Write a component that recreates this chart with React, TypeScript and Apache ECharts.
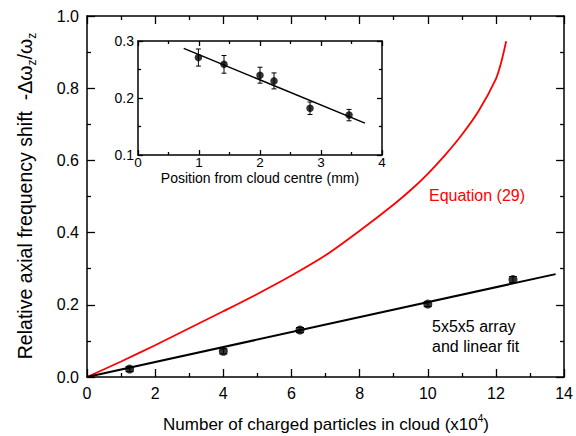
import React, { useEffect, useRef } from 'react';
import * as echarts from 'echarts';

// Main plot data
const mainX = [1.25, 4, 6.25, 10, 12.5];
const mainY = [0.022, 0.071, 0.13, 0.202, 0.27];
const mainErr = [0.007, 0.007, 0.007, 0.007, 0.008];
const fitX = [0, 13.75];
const fitY = [0, 0.285];
const eqX = [0, 1, 2, 3, 4, 5, 6, 7, 8, 9, 9.5, 10, 10.5, 11, 11.5, 12, 12.15, 12.3];
const eqY = [0, 0.043, 0.088, 0.135, 0.182, 0.23, 0.281, 0.337, 0.405, 0.478, 0.518, 0.563, 0.614, 0.671, 0.738, 0.826, 0.87, 0.93];

// Inset data
const insetX = [0.99, 1.41, 2.0, 2.23, 2.82, 3.46];
const insetY = [0.271, 0.259, 0.24, 0.23, 0.182, 0.17];
const insetErr = [0.015, 0.0155, 0.014, 0.014, 0.011, 0.01];
const insetFitX = [0.75, 3.72];
const insetFitY = [0.287, 0.156];

const FONT = '"Liberation Sans", Arial, sans-serif';

function measure(t: string, fs: number): number {
  const c = document.createElement('canvas').getContext('2d');
  if (!c) return t.length * fs * 0.55;
  c.font = `${fs}px "Liberation Sans", Arial, sans-serif`;
  return c.measureText(t).width;
}

function errRender(capHalf: number) {
  return (params: any, api: any) => {
    const x = api.value(0), y = api.value(1), e = api.value(2);
    const t = api.coord([x, y + e]);
    const b = api.coord([x, y - e]);
    const style = { stroke: '#000', lineWidth: 1 };
    return {
      type: 'group',
      children: [
        { type: 'line', shape: { x1: t[0], y1: t[1], x2: b[0], y2: b[1] }, style },
        { type: 'line', shape: { x1: t[0] - capHalf, y1: t[1], x2: t[0] + capHalf, y2: t[1] }, style },
        { type: 'line', shape: { x1: b[0] - capHalf, y1: b[1], x2: b[0] + capHalf, y2: b[1] }, style },
      ],
    };
  };
}

function axis(o: any) {
  return {
    type: 'value',
    min: o.min,
    max: o.max,
    interval: o.interval,
    gridIndex: o.grid,
    position: o.position,
    axisLine: { show: true, onZero: false, lineStyle: { color: '#000', width: 1.5 } },
    axisTick: { show: true, inside: true, length: o.tick, lineStyle: { color: '#000', width: 1.3 } },
    minorTick: { show: true, splitNumber: 2, length: o.minor, lineStyle: { color: '#000', width: 1.3 } },
    splitLine: { show: false },
    minorSplitLine: { show: false },
    axisLabel: {
      show: o.labels,
      color: '#000',
      fontSize: o.fs,
      fontFamily: FONT,
      margin: o.margin,
      lineHeight: o.lh,
      formatter: o.fmt,
    },
  };
}

function buildLabel(parts: { t: string; fs: number; dy: number }[]) {
  const widths = parts.map((p) => measure(p.t, p.fs));
  const total = widths.reduce((a, b) => a + b, 0);
  let cur = -total / 2;
  return parts.map((p, i) => {
    const el = {
      type: 'text',
      x: cur,
      y: p.dy,
      style: {
        text: p.t,
        fontSize: p.fs,
        fontFamily: FONT,
        fill: '#000',
        align: 'left',
        verticalAlign: 'middle',
      },
    };
    cur += widths[i];
    return el;
  });
}

export default function App() {
  const ref = useRef<HTMLDivElement>(null);
  useEffect(() => {
    document.body.style.margin = '0';
    if (!ref.current) return;
    const chart = echarts.init(ref.current, undefined, { renderer: 'svg' });
    const f1 = (v: number) => v.toFixed(1);

    const yLabel = buildLabel([
      { t: 'Relative axial frequency shift  -Δω', fs: 19.5, dy: 0 },
      { t: 'z', fs: 12, dy: 7 },
      { t: '/ω', fs: 19.5, dy: 0 },
      { t: 'z', fs: 12, dy: 7 },
    ]);
    const xLabel = buildLabel([
      { t: 'Number of charged particles in cloud (x10', fs: 17, dy: 0 },
      { t: '4', fs: 10, dy: -6 },
      { t: ')', fs: 17, dy: 0 },
    ]);

    chart.setOption({
      animation: false,
      backgroundColor: '#fff',
      grid: [
        { left: 87, right: 11, top: 16, bottom: 59 },
        { left: 138, right: 194, top: 41, bottom: 281 },
      ],
      xAxis: [
        axis({ min: 0, max: 14, interval: 2, grid: 0, position: 'bottom', tick: 8, minor: 4, labels: true, fs: 16, margin: 8 }),
        axis({ min: 0, max: 14, interval: 2, grid: 0, position: 'top', tick: 8, minor: 4, labels: false, fs: 16, margin: 8 }),
        axis({ min: 0, max: 4, interval: 1, grid: 1, position: 'bottom', tick: 5, minor: 3, labels: true, fs: 13.5, margin: 2, lh: 11 }),
        axis({ min: 0, max: 4, interval: 1, grid: 1, position: 'top', tick: 5, minor: 3, labels: false, fs: 14, margin: 2 }),
      ],
      yAxis: [
        axis({ min: 0, max: 1, interval: 0.2, grid: 0, position: 'left', tick: 8, minor: 4, labels: true, fs: 16, margin: 8, fmt: f1 }),
        axis({ min: 0, max: 1, interval: 0.2, grid: 0, position: 'right', tick: 8, minor: 4, labels: false, fs: 16, margin: 8 }),
        axis({ min: 0.1, max: 0.3, interval: 0.1, grid: 1, position: 'left', tick: 5, minor: 3, labels: true, fs: 14, margin: 4, fmt: f1 }),
        axis({ min: 0.1, max: 0.3, interval: 0.1, grid: 1, position: 'right', tick: 5, minor: 3, labels: false, fs: 14, margin: 4 }),
      ],
      series: [
        {
          type: 'line',
          xAxisIndex: 0,
          yAxisIndex: 0,
          data: eqX.map((x, i) => [x, eqY[i]]),
          smooth: 0.3,
          showSymbol: false,
          lineStyle: { color: '#ff0000', width: 1.8 },
        },
        {
          type: 'line',
          xAxisIndex: 0,
          yAxisIndex: 0,
          data: fitX.map((x, i) => [x, fitY[i]]),
          showSymbol: false,
          lineStyle: { color: '#000', width: 2 },
        },
        {
          type: 'custom',
          xAxisIndex: 0,
          yAxisIndex: 0,
          data: mainX.map((x, i) => [x, mainY[i], mainErr[i]]),
          renderItem: errRender(4),
        },
        {
          type: 'scatter',
          xAxisIndex: 0,
          yAxisIndex: 0,
          data: mainX.map((x, i) => [x, mainY[i]]),
          symbol: 'circle',
          symbolSize: 9,
          itemStyle: { color: '#000' },
        },
        {
          type: 'line',
          xAxisIndex: 2,
          yAxisIndex: 2,
          data: insetFitX.map((x, i) => [x, insetFitY[i]]),
          showSymbol: false,
          lineStyle: { color: '#000', width: 1.5 },
        },
        {
          type: 'custom',
          xAxisIndex: 2,
          yAxisIndex: 2,
          data: insetX.map((x, i) => [x, insetY[i], insetErr[i]]),
          renderItem: errRender(2.5),
        },
        {
          type: 'scatter',
          xAxisIndex: 2,
          yAxisIndex: 2,
          data: insetX.map((x, i) => [x, insetY[i]]),
          symbol: 'circle',
          symbolSize: 7.5,
          itemStyle: { color: '#000' },
        },
      ],
      graphic: [
        { type: 'group', x: 25, y: 196, rotation: Math.PI / 2, children: yLabel },
        { type: 'group', x: 326, y: 424, children: xLabel },
        {
          type: 'text',
          x: 260,
          y: 178,
          style: { text: 'Position from cloud centre (mm)', fontSize: 14, lineHeight: 12, fontFamily: FONT, fill: '#000', align: 'center', verticalAlign: 'middle' },
        },
        {
          type: 'text',
          x: 429,
          y: 195,
          style: { text: 'Equation (29)', fontSize: 16, fontFamily: FONT, fill: '#ff0000', align: 'left', verticalAlign: 'middle' },
        },
        {
          type: 'text',
          x: 432,
          y: 326,
          style: { text: '5x5x5 array', fontSize: 16, fontFamily: FONT, fill: '#000', align: 'left', verticalAlign: 'middle' },
        },
        {
          type: 'text',
          x: 432,
          y: 346,
          style: { text: 'and linear fit', fontSize: 16, fontFamily: FONT, fill: '#000', align: 'left', verticalAlign: 'middle' },
        },
      ],
    });
    return () => chart.dispose();
  }, []);
  return <div ref={ref} style={{ width: 576, height: 436 }} />;
}
